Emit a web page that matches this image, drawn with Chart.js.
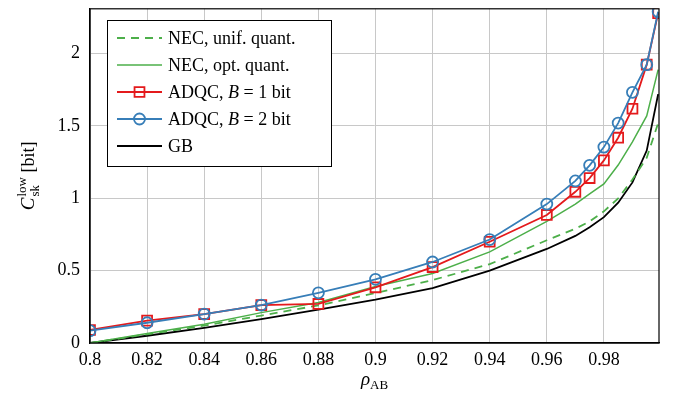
<!DOCTYPE html>
<html>
<head>
<meta charset="utf-8">
<script src="https://cdn.jsdelivr.net/npm/chart.js@4"></script>
<style>
  html, body { margin: 0; padding: 0; background: #fff; }
</style>
</head>
<body>
<canvas id="chart" width="675" height="399"></canvas>
<script>
// correlation coefficient rho_AB (x axis)
const rho = [0.8, 0.82, 0.84, 0.86, 0.88, 0.9, 0.92, 0.94, 0.96, 0.97, 0.975, 0.98, 0.985, 0.99, 0.995, 0.999];

// lower bound on secret key capacity [bit]
const necUnif = [0.0, 0.06, 0.12, 0.19, 0.26, 0.345, 0.435, 0.545, 0.71, 0.79, 0.84, 0.91, 1.0, 1.13, 1.28, 1.52];
const necOpt  = [0.0, 0.065, 0.13, 0.21, 0.28, 0.39, 0.48, 0.63, 0.84, 0.96, 1.03, 1.10, 1.23, 1.39, 1.57, 1.89];
const adqc1   = [0.09, 0.155, 0.2, 0.262, 0.27, 0.385, 0.525, 0.70, 0.885, 1.045, 1.14, 1.262, 1.419, 1.619, 1.924, 2.28];
const adqc2   = [0.085, 0.14, 0.2, 0.262, 0.347, 0.44, 0.56, 0.715, 0.96, 1.12, 1.228, 1.354, 1.52, 1.733, 1.924, 2.29];
const gb      = [0.0, 0.05, 0.105, 0.165, 0.23, 0.30, 0.38, 0.50, 0.65, 0.74, 0.80, 0.87, 0.97, 1.11, 1.33, 1.72];

const xTicks = [0.8, 0.82, 0.84, 0.86, 0.88, 0.9, 0.92, 0.94, 0.96, 0.98];
const yTicks = [0, 0.5, 1, 1.5, 2];

const GREEN = '#4daf4a';
const RED = '#e41a1c';
const BLUE = '#377eb8';
const SERIF = '"Liberation Serif", "Times New Roman", serif';

function pts(ys) {
  return ys.map((y, i) => ({ x: rho[i], y: y }));
}

const datasets = [
  { label: 'ADQC, B = 2 bit', data: pts(adqc2), borderColor: BLUE, borderWidth: 1.8,
    pointStyle: 'circle', pointRadius: 5.5, pointBorderWidth: 1.8, pointBackgroundColor: 'rgba(0,0,0,0)', pointBorderColor: BLUE },
  { label: 'ADQC, B = 1 bit', data: pts(adqc1), borderColor: RED, borderWidth: 1.8,
    pointStyle: 'rect', pointRadius: 7, pointBorderWidth: 1.8, pointBackgroundColor: 'rgba(0,0,0,0)', pointBorderColor: RED },
  { label: 'NEC, opt. quant.', data: pts(necOpt), borderColor: GREEN, borderWidth: 1.5, pointRadius: 0 },
  { label: 'NEC, unif. quant.', data: pts(necUnif), borderColor: GREEN, borderWidth: 1.8, borderDash: [8, 6], pointRadius: 0 },
  { label: 'GB', data: pts(gb), borderColor: '#000', borderWidth: 1.8, pointRadius: 0 }
];

// legend entries in the order shown in the box
const legendOrder = [3, 2, 1, 0, 4];

function drawRuns(ctx, runs, x, y) {
  let cx = x;
  runs.forEach(r => {
    ctx.font = r.font;
    ctx.fillText(r.text, cx, y + (r.dy || 0));
    cx += ctx.measureText(r.text).width;
  });
  return cx;
}

function runsWidth(ctx, runs) {
  let w = 0;
  runs.forEach(r => { ctx.font = r.font; w += ctx.measureText(r.text).width; });
  return w;
}

const decorations = {
  id: 'decorations',
  afterDraw(chart) {
    const ctx = chart.ctx;
    const a = chart.chartArea;
    ctx.save();

    // frame
    ctx.strokeStyle = '#000';
    ctx.lineWidth = 1.2;
    ctx.strokeRect(a.left, a.top, a.right - a.left, a.bottom - a.top);

    // legend box
    const lx = 107, ly = 20, lw = 224, lh = 146;
    ctx.fillStyle = '#fff';
    ctx.fillRect(lx, ly, lw, lh);
    ctx.strokeStyle = '#000';
    ctx.lineWidth = 1;
    ctx.strokeRect(lx + 0.5, ly + 0.5, lw, lh);

    const norm = '18px ' + SERIF;
    const ital = 'italic 18px ' + SERIF;
    legendOrder.forEach((di, row) => {
      const ds = chart.data.datasets[di];
      const yy = 38 + row * 27;
      ctx.strokeStyle = ds.borderColor;
      ctx.lineWidth = ds.borderWidth;
      ctx.setLineDash(ds.borderDash || []);
      ctx.beginPath();
      ctx.moveTo(117, yy);
      ctx.lineTo(162, yy);
      ctx.stroke();
      ctx.setLineDash([]);
      if (ds.pointRadius > 0) {
        ctx.lineWidth = ds.pointBorderWidth;
        ctx.strokeStyle = ds.pointBorderColor;
        ctx.fillStyle = 'rgba(0,0,0,0)';
        Chart.helpers.drawPoint(ctx, { pointStyle: ds.pointStyle, radius: ds.pointRadius, borderWidth: ds.pointBorderWidth, rotation: 0 }, 139.5, yy);
      }
      ctx.fillStyle = '#000';
      ctx.textBaseline = 'middle';
      ctx.textAlign = 'left';
      let runs;
      if (ds.label.indexOf('B =') >= 0) {
        const parts = ds.label.split('B');
        runs = [{ text: parts[0], font: norm }, { text: 'B', font: ital }, { text: parts[1], font: norm }];
      } else {
        runs = [{ text: ds.label, font: norm }];
      }
      drawRuns(ctx, runs, 168, yy + 1);
    });

    // x axis title: rho_AB
    ctx.fillStyle = '#000';
    ctx.textBaseline = 'alphabetic';
    const xr = [
      { text: 'ρ', font: 'italic 19px ' + SERIF },
      { text: 'AB', font: '13px ' + SERIF, dy: 4 }
    ];
    const xw = runsWidth(ctx, xr);
    drawRuns(ctx, xr, (a.left + a.right) / 2 - xw / 2, 385);

    // y axis title: C_sk^low [bit]
    ctx.save();
    ctx.translate(34, (a.top + a.bottom) / 2);
    ctx.rotate(-Math.PI / 2);
    ctx.font = 'italic 19px ' + SERIF;
    const cW = ctx.measureText('C').width;
    ctx.font = '13px ' + SERIF;
    const supW = ctx.measureText('low').width;
    const subW = ctx.measureText('sk').width;
    ctx.font = '18px ' + SERIF;
    const bitW = ctx.measureText(' [bit]').width;
    const total = cW + 1 + Math.max(supW, subW) + bitW;
    let sx = -total / 2;
    ctx.font = 'italic 19px ' + SERIF;
    ctx.fillText('C', sx, 0);
    sx += cW + 1;
    ctx.font = '13px ' + SERIF;
    ctx.fillText('low', sx, -8);
    ctx.fillText('sk', sx, 5);
    sx += Math.max(supW, subW);
    ctx.font = '18px ' + SERIF;
    ctx.fillText(' [bit]', sx, 0);
    ctx.restore();

    ctx.restore();
  }
};

new Chart(document.getElementById('chart').getContext('2d'), {
  type: 'line',
  data: { datasets: datasets },
  options: {
    responsive: false,
    animation: false,
    layout: { padding: { left: 0, right: 16, top: 8, bottom: 0 } },
    plugins: { legend: { display: false }, tooltip: { enabled: false } },
    elements: { line: { tension: 0, fill: false } },
    scales: {
      x: {
        type: 'linear',
        min: 0.8,
        max: 0.9993,
        afterBuildTicks: s => { s.ticks = xTicks.map(v => ({ value: v })); },
        afterFit: s => { s.height = 56; s.paddingLeft = 0; s.paddingRight = 0; },
        grid: { color: '#c8c8c8', lineWidth: 1, drawTicks: false },
        border: { color: '#000', width: 1.2 },
        ticks: {
          color: '#000', padding: 6, maxRotation: 0,
          font: { family: SERIF, size: 18 },
          callback: v => String(Number(v.toFixed(2)))
        }
      },
      y: {
        type: 'linear',
        min: 0,
        max: 2.31,
        afterBuildTicks: s => { s.ticks = yTicks.map(v => ({ value: v })); },
        afterFit: s => { s.width = 90; s.paddingTop = 0; s.paddingBottom = 0; },
        grid: { color: '#c8c8c8', lineWidth: 1, drawTicks: false },
        border: { color: '#000', width: 1.2 },
        ticks: {
          color: '#000', padding: 10,
          font: { family: SERIF, size: 18 },
          callback: v => String(Number(v.toFixed(1)))
        }
      }
    }
  },
  plugins: [decorations]
});
</script>
</body>
</html>
